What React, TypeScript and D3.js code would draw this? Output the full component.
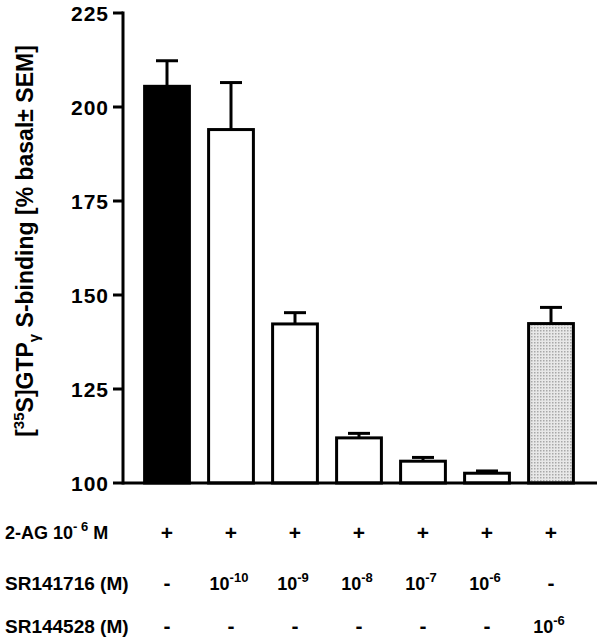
import React from "react";
import * as d3 from "d3";

const categories = ["2AG", "SR1e-10", "SR1e-9", "SR1e-8", "SR1e-7", "SR1e-6", "SR2e-6"];
const means = [205.5, 194, 142.3, 112, 105.8, 102.6, 142.4];
const sems = [6.8, 12.5, 3, 1.2, 1, 0.6, 4.3];
const fills = ["#000000", "#ffffff", "#ffffff", "#ffffff", "#ffffff", "#ffffff", "url(#dots)"];
const yTicks = [100, 125, 150, 175, 200, 225];
const row1Label = "2-AG 10";
const row1 = ["+", "+", "+", "+", "+", "+", "+"];
const row2Label = "SR141716 (M)";
const row2 = ["-", "-10", "-9", "-8", "-7", "-6", "-"];
const row3Label = "SR144528 (M)";
const row3 = ["-", "-", "-", "-", "-", "-", "-6"];

const W = 600, H = 640;
const axisX = 123;

export default function App() {
  const y = d3.scaleLinear().domain([100, 225]).range([483, 13]);
  const x = d3.scaleBand<string>().domain(categories).range([135, 583]).paddingInner(0.3).paddingOuter(0.15);
  const bw = x.bandwidth();
  const font = "'Liberation Sans', Arial, sans-serif";

  const cell = (v: string, cx: number, cy: number, key: string) => {
    if (v === "+" || v === "-") {
      return (
        <text key={key} x={cx} y={cy} textAnchor="middle" fontSize={21} fontWeight="bold">{v}</text>
      );
    }
    return (
      <text key={key} x={cx - 2} y={cy} textAnchor="middle" fontSize={18} fontWeight="bold">
        10<tspan dy={-8} fontSize={13}>{v}</tspan>
      </text>
    );
  };

  return (
    <svg width={W} height={H} style={{ position: "absolute", left: 0, top: 0 }} fontFamily={font}>
      <defs>
        <pattern id="dots" width={3} height={3} patternUnits="userSpaceOnUse">
          <rect width={3} height={3} fill="#e8e8e8" />
          <rect width={1.5} height={1.5} fill="#a8a8a8" />
        </pattern>
      </defs>
      <rect width={W} height={H} fill="#fff" />
      {categories.map((c, i) => {
        const x0 = x(c)!;
        const top = y(means[i]);
        const eTop = y(means[i] + sems[i]);
        const cx = x0 + bw / 2;
        return (
          <g key={c}>
            <line x1={cx} x2={cx} y1={top} y2={eTop} stroke="#000" strokeWidth={3} />
            <line x1={cx - 11} x2={cx + 11} y1={eTop} y2={eTop} stroke="#000" strokeWidth={3} />
            <rect x={x0} y={top} width={bw} height={y(100) - top} fill={fills[i]} stroke="#000" strokeWidth={3} />
          </g>
        );
      })}
      <line x1={axisX} x2={axisX} y1={y(225) - 1.5} y2={y(100) + 1.5} stroke="#000" strokeWidth={3} />
      <line x1={axisX} x2={597} y1={y(100)} y2={y(100)} stroke="#000" strokeWidth={3} />
      {yTicks.map((t) => (
        <g key={t}>
          <line x1={axisX - 10} x2={axisX} y1={y(t)} y2={y(t)} stroke="#000" strokeWidth={3} />
          <text x={axisX - 14} y={y(t) + 8} textAnchor="end" fontSize={21} fontWeight="bold" letterSpacing={1}>{t}</text>
        </g>
      ))}
      <text transform="translate(33,241) rotate(-90)" textAnchor="middle" fontSize={23} fontWeight="bold">
        [<tspan dy={-9} fontSize={15}>35</tspan><tspan dy={9}>S]GTP</tspan><tspan dy={6} fontSize={15}>γ</tspan><tspan dy={-6}> S-binding [% basal± SEM]</tspan>
      </text>
      <text x={5} y={539} fontSize={18} fontWeight="bold">
        {row1Label}<tspan dy={-8} fontSize={13}>- 6</tspan><tspan dy={8}> M</tspan>
      </text>
      <text x={5} y={590} fontSize={19} fontWeight="bold">{row2Label}</text>
      <text x={5} y={633} fontSize={19} fontWeight="bold">{row3Label}</text>
      {categories.map((c, i) => {
        const cx = x(c)! + bw / 2;
        return (
          <g key={"r" + c}>
            {cell(row1[i], cx, 540, "a" + i)}
            {cell(row2[i], cx, 590, "b" + i)}
            {cell(row3[i], cx, 633, "c" + i)}
          </g>
        );
      })}
    </svg>
  );
}
